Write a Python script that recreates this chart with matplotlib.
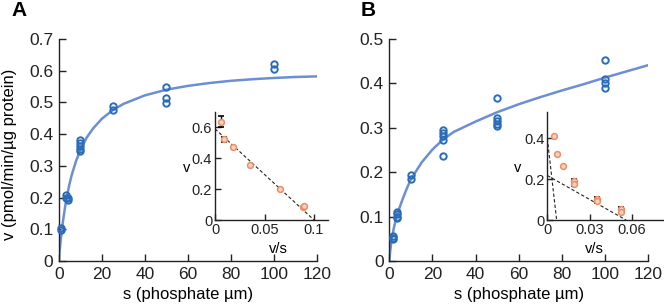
"""Phosphate uptake kinetics: v vs s with Eadie-Hofstee insets (panels A and B)."""

import matplotlib
matplotlib.use("Agg")
import matplotlib.pyplot as plt

plt.rcParams["font.family"] = ["Liberation Sans", "DejaVu Sans"]

# ---------------------------------------------------------------------------
# Data
# ---------------------------------------------------------------------------

# Panel A: measured rates
a_s = [1, 1, 3.5, 3.5, 4.3, 4.3, 10, 10, 10, 10, 10, 25, 25, 50, 50, 50, 100, 100]
a_v = [0.105, 0.098, 0.208, 0.2, 0.198, 0.193, 0.38, 0.372, 0.364, 0.354, 0.346,
       0.488, 0.475, 0.55, 0.515, 0.497, 0.622, 0.605]
# Panel A: fitted curve
a_fit_s = [0, 0.25, 0.5, 1, 2, 3, 4, 5, 6, 8, 10, 13, 16, 20, 25, 30, 40, 50,
           60, 70, 80, 90, 100, 110, 120]
a_fit_v = [0, 0.019, 0.037, 0.070, 0.126, 0.172, 0.210, 0.242, 0.270, 0.314,
           0.349, 0.389, 0.418, 0.448, 0.475, 0.495, 0.522, 0.540, 0.552,
           0.561, 0.568, 0.573, 0.577, 0.580, 0.582]

# Panel B: measured rates
b_s = [1.5, 1.5, 1.5, 3.5, 3.5, 3.5, 3.5, 10, 10, 25, 25, 25, 25, 25,
       50, 50, 50, 50, 50, 100, 100, 100, 100]
b_v = [0.057, 0.052, 0.049, 0.11, 0.105, 0.1, 0.096, 0.194, 0.184,
       0.295, 0.288, 0.281, 0.273, 0.236, 0.368, 0.322, 0.315, 0.309, 0.304,
       0.452, 0.41, 0.4, 0.39]
# Panel B: fitted curve
b_fit_s = [0, 0.25, 0.5, 1, 2, 3, 4, 6, 8, 10, 15, 20, 25, 30, 40, 50,
           60, 70, 80, 90, 100, 110, 120]
b_fit_v = [0, 0.014, 0.026, 0.045, 0.072, 0.093, 0.110, 0.137, 0.162, 0.184,
           0.222, 0.251, 0.274, 0.291, 0.314, 0.335, 0.353, 0.369, 0.384,
           0.398, 0.413, 0.427, 0.441]

# Inset A: Eadie-Hofstee (v vs v/s)
ia_x = [0.0058, 0.0092, 0.0184, 0.0354, 0.0656, 0.0884, 0.0900]
ia_y = [0.637, 0.525, 0.475, 0.357, 0.198, 0.084, 0.088]
ia_err_x = [0.0058, 0.0092]
ia_err_y = [0.637, 0.522]
ia_err = [0.035, 0.015]
ia_line_x = [0, 0.1]
ia_line_y = [0.59, 0]

# Inset B
ib_x = [0.0045, 0.0069, 0.0109, 0.0187, 0.0187, 0.0356, 0.0356, 0.0524, 0.0524]
ib_y = [0.413, 0.325, 0.264, 0.19, 0.178, 0.103, 0.092, 0.055, 0.040]
ib_err_x = [0.0187, 0.0356, 0.0524]
ib_err_y = [0.184, 0.098, 0.048]
ib_err = [0.015, 0.013, 0.016]
ib_line1_x = [0, 0.0066]
ib_line1_y = [0.40, 0]
ib_line2_x = [0, 0.056]
ib_line2_y = [0.218, 0]

# ---------------------------------------------------------------------------
# Style
# ---------------------------------------------------------------------------

CURVE = "#6b8fd2"
MARK = "#2b6cb8"
ORANGE = "#e98e66"


def _style(ax, size):
    for side in ("top", "right"):
        ax.spines[side].set_visible(False)
    for side in ("left", "bottom"):
        ax.spines[side].set_linewidth(1.0)
        ax.spines[side].set_color("#222222")
    ax.tick_params(direction="in", length=5, width=1.0, labelsize=size,
                   colors="#222222", pad=4)


def main_panel(ax, s, v, fs, fv, ymax, yticks):
    ax.plot(fs, fv, color=CURVE, lw=1.8, zorder=2)
    ax.plot(s, v, ls="none", marker="o", ms=4.6, mfc="none", mec=MARK,
            mew=1.4, zorder=3, clip_on=False)
    ax.set_xlim(0, 120)
    ax.set_ylim(0, ymax)
    ax.set_xticks([0, 20, 40, 60, 80, 100, 120])
    ax.set_xticklabels(["0", "20", "40", "60", "80", "100", "120"])
    ax.set_yticks(yticks)
    ax.set_yticklabels(["0"] + [f"{t:g}" for t in yticks[1:]])
    _style(ax, 12.5)
    ax.set_xlabel("s (phosphate µm)", fontsize=12)
    ax.xaxis.set_label_coords(0.5, -0.115)


def inset(ax, xlim, ylim, xticks, yticks, xl_x):
    ax.set_xlim(*xlim)
    ax.set_ylim(*ylim)
    ax.set_xticks(xticks)
    ax.set_xticklabels(["0"] + [f"{t:g}" for t in xticks[1:]])
    ax.set_yticks(yticks)
    ax.set_yticklabels(["0"] + [f"{t:g}" for t in yticks[1:]])
    ax.patch.set_alpha(0)
    _style(ax, 10.5)
    ax.tick_params(length=4, pad=2)
    ax.set_xlabel("v/s", fontsize=10.5)
    ax.xaxis.set_label_coords(xl_x, -0.2)
    ax.set_ylabel("v", fontsize=10.5, rotation=0)
    ax.yaxis.set_label_coords(-0.25, 0.42)


fig = plt.figure(figsize=(6.64, 3.08), dpi=100)

# ---- panel A ----
axA = fig.add_axes([0.0884, 0.1526, 0.389, 0.721])
main_panel(axA, a_s, a_v, a_fit_s, a_fit_v, 0.7,
           [0, 0.1, 0.2, 0.3, 0.4, 0.5, 0.6, 0.7])
axA.set_ylabel("v (pmol/min/µg protein)", fontsize=12)
axA.yaxis.set_label_coords(-0.16, 0.48)

# ---- panel B ----
axB = fig.add_axes([0.5863, 0.1526, 0.390, 0.721])
main_panel(axB, b_s, b_v, b_fit_s, b_fit_v, 0.5, [0, 0.1, 0.2, 0.3, 0.4, 0.5])

fig.text(0.018, 0.965, "A", fontsize=15, fontweight="bold", va="center")
fig.text(0.543, 0.965, "B", fontsize=15, fontweight="bold", va="center")

# ---- inset A ----
iA = fig.add_axes([0.3238, 0.2857, 0.170, 0.351])
iA.plot(ia_line_x, ia_line_y, color="#222222", lw=0.8, ls=(0, (3, 2)))
iA.errorbar(ia_err_x, ia_err_y, yerr=ia_err, fmt="none", ecolor="black",
            elinewidth=1.0, capsize=2.5, capthick=1.2)
iA.plot(ia_x, ia_y, ls="none", marker="o", ms=4.2, mfc="#f6d2bf",
        mec=ORANGE, mew=1.1)
inset(iA, (0, 0.114), (0, 0.7), [0, 0.05, 0.1], [0, 0.2, 0.4, 0.6], 0.56)

# ---- inset B ----
iB = fig.add_axes([0.8243, 0.2857, 0.180, 0.351])
iB.plot(ib_line1_x, ib_line1_y, color="#222222", lw=0.8, ls=(0, (3, 2)))
iB.plot(ib_line2_x, ib_line2_y, color="#222222", lw=0.8, ls=(0, (3, 2)))
iB.errorbar(ib_err_x, ib_err_y, yerr=ib_err, fmt="none", ecolor="black",
            elinewidth=1.0, capsize=2.5, capthick=1.2)
iB.plot(ib_x, ib_y, ls="none", marker="o", ms=4.2, mfc="#f6d2bf",
        mec=ORANGE, mew=1.1)
inset(iB, (0, 0.085), (0, 0.53), [0, 0.03, 0.06], [0, 0.2, 0.4], 0.39)

fig.savefig("out.png", dpi=100)
